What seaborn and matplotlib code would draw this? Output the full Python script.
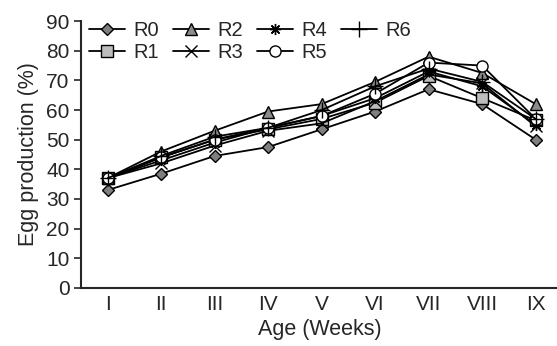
import matplotlib
matplotlib.use("Agg")
import matplotlib.pyplot as plt
import seaborn as sns
import pandas as pd

weeks = ["I", "II", "III", "IV", "V", "VI", "VII", "VIII", "IX"]
R0 = [33, 38.5, 44.5, 47.5, 53.5, 59.5, 67, 62, 50]
R1 = [37, 44, 50, 53.5, 57, 62.5, 71.5, 64, 56.5]
R2 = [37, 46, 53, 59.5, 62, 69.5, 78, 72.5, 62]
R3 = [37, 42, 48, 53, 55.5, 63, 72, 69, 54.5]
R4 = [37, 43, 49, 54, 58, 64, 73, 68, 55]
R5 = [37, 44, 50, 54, 58, 65.5, 76, 75, 57]
R6 = [37, 44.5, 51, 54, 60, 68, 74, 69.5, 57]

series = {"R0": R0, "R1": R1, "R2": R2, "R3": R3, "R4": R4, "R5": R5, "R6": R6}
# (8, 2, 0) -> 8-armed asterisk like the original
markers = {"R0": "D", "R1": "s", "R2": "^", "R3": "x", "R4": (8, 2, 0), "R5": "o", "R6": "+"}
fills = {"R0": "#7f7f7f", "R1": "#bdbdbd", "R2": "#8c8c8c", "R3": "black",
         "R4": "black", "R5": "white", "R6": "black"}
sizes = {"R0": 6, "R1": 8, "R2": 8, "R3": 8, "R4": 8, "R5": 8, "R6": 11}

sns.set_style("ticks")
plt.rcParams["font.family"] = ["Liberation Sans", "DejaVu Sans"]

df = pd.DataFrame(series)
df["week"] = range(len(weeks))

fig = plt.figure(figsize=(5.57, 3.46), dpi=100)
ax = fig.add_axes([0.145, 0.168, 0.86, 0.771])

for name in series:
    sns.lineplot(data=df, x="week", y=name, ax=ax, color="black", lw=1.3,
                 marker=markers[name], markersize=sizes[name],
                 markerfacecolor=fills[name], markeredgecolor="black",
                 markeredgewidth=1.0, label=name)

ax.set_xlim(-0.5, 8.45)
ax.set_ylim(0, 90)
ax.set_yticks(range(0, 91, 10))
ax.set_xticks(range(len(weeks)))
ax.set_xticklabels(weeks)
ax.tick_params(axis="x", length=0, labelsize=15, pad=5)
ax.tick_params(axis="y", length=5, width=1.2, labelsize=15, direction="out", pad=3)
ax.set_xlabel("Age (Weeks)", fontsize=15.5, labelpad=4)
ax.set_ylabel("Egg production (%)", fontsize=15.5, labelpad=5)
for s in ["top", "right"]:
    ax.spines[s].set_visible(False)
for s in ["left", "bottom"]:
    ax.spines[s].set_linewidth(1.5)

ax.legend(ncol=4, loc="upper left", bbox_to_anchor=(0.0, 1.03), frameon=False,
          fontsize=14.5, handlelength=1.8, handletextpad=0.4, columnspacing=0.7,
          labelspacing=0.15, borderaxespad=0)

fig.savefig("out.png", dpi=100)
